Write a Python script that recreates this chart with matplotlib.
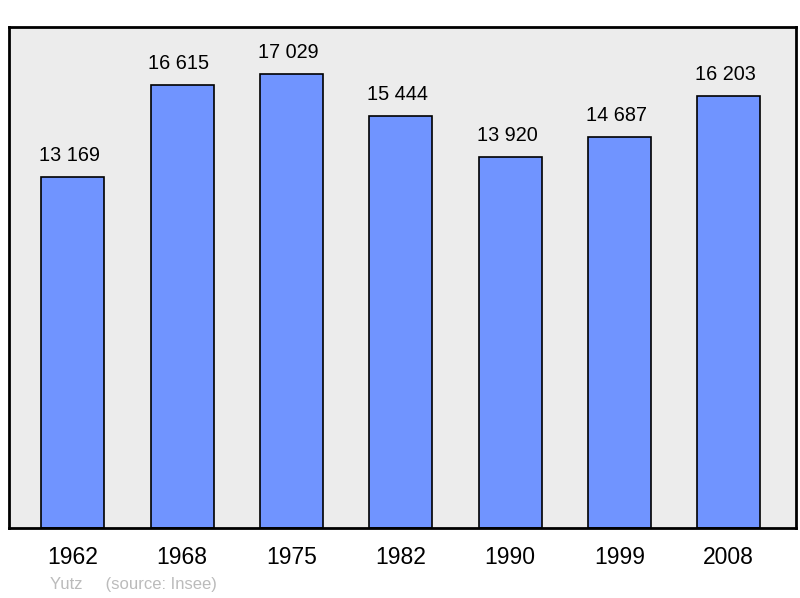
import matplotlib.pyplot as plt

years = ['1962', '1968', '1975', '1982', '1990', '1999', '2008']
population = [13169, 16615, 17029, 15444, 13920, 14687, 16203]
labels = ['13 169', '16 615', '17 029', '15 444', '13 920', '14 687', '16 203']

plt.rcParams['font.family'] = ['Liberation Sans', 'DejaVu Sans']

fig = plt.figure(figsize=(8, 5.98), dpi=100)
ax = fig.add_axes([9 / 800, 70 / 598, 787 / 800, 501 / 598])
ax.set_facecolor('#ececec')

x = list(range(len(years)))
ax.bar(x, population, width=0.576, color='#7094ff', edgecolor='black', linewidth=1.2, zorder=2)
for xi, v, lab in zip(x, population, labels):
    ax.text(xi - 0.03, v + 450, lab, ha='center', va='bottom', fontsize=14.3)

ax.set_xlim(-0.585, 6.615)
ax.set_ylim(0, 18800)
ax.set_yticks([])
ax.set_xticks(x)
ax.set_xticklabels(years, fontsize=16.5)
ax.tick_params(axis='x', length=0, pad=13)
for s in ax.spines.values():
    s.set_linewidth(2)

fig.text(50 / 800, 1 - 584 / 598, 'Yutz     (source: Insee)', color='#bbbbbb', fontsize=12, va='center')

fig.savefig('out.png')
